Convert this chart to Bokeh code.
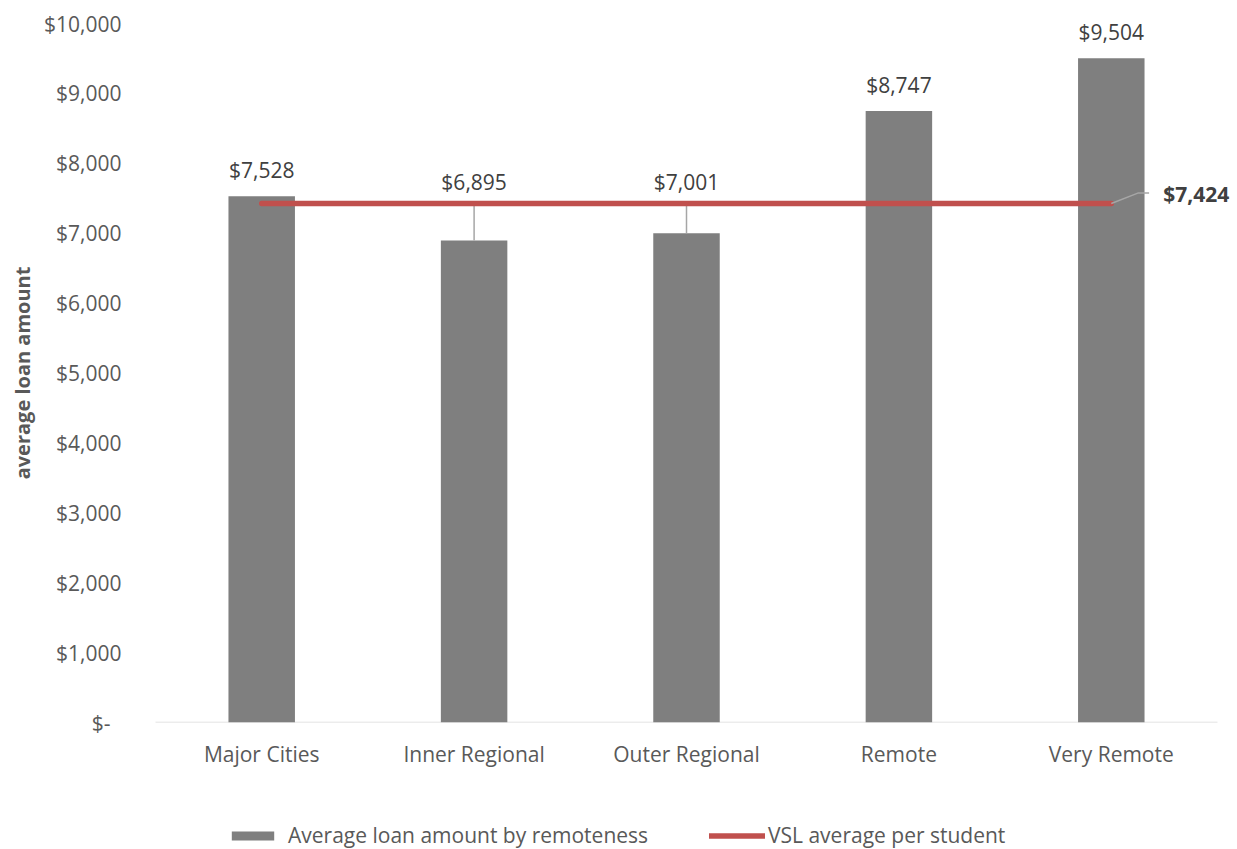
from bokeh.plotting import figure
from bokeh.layouts import column
from bokeh.models import (Range1d, FactorRange, FixedTicker, NumeralTickFormatter,
                          Legend, LegendItem, ColumnDataSource)
from bokeh.core.properties import value
from bokeh.embed import file_html
from bokeh.resources import INLINE

# ---- data ----
categories = ["Major Cities", "Inner Regional", "Outer Regional", "Remote", "Very Remote"]
loan_amounts = [7528, 6895, 7001, 8747, 9504]
vsl_average = 7424
y_ticks = [0, 1000, 2000, 3000, 4000, 5000, 6000, 7000, 8000, 9000, 10000]
series_names = ["Average loan amount by remoteness", "VSL average per student"]

FONT = "Open Sans"
BAR_COLOR = "#7F7F7F"
LINE_COLOR = "#C0504D"
TEXT_COLOR = "#595959"
LABEL_COLOR = "#404040"
LEADER = "#A6A6A6"

xr = FactorRange(*categories, range_padding=0.0942, range_padding_units="absolute")
p = figure(width=1237, height=770, x_range=xr,
           y_range=Range1d(0, 10000), output_backend="svg", toolbar_location=None,
           min_border_left=135, min_border_right=0, min_border_top=23,
           min_border_bottom=47)
p.outline_line_color = None
p.xgrid.grid_line_color = None
p.ygrid.grid_line_color = None
p.background_fill_color = "white"
p.border_fill_color = "white"

src = ColumnDataSource(dict(x=categories, y=loan_amounts,
                            avg=[vsl_average] * len(categories)))

# category-axis baseline across the categories
p.segment(x0=[0], y0=[0], x1=[len(categories)], y1=[0], line_color="#D9D9D9", line_width=1.5)

bars = p.vbar(x="x", top="y", width=0.313, source=src, color=BAR_COLOR, line_color=None)

# leader lines for labels moved above the average line
below = [i for i, v in enumerate(loan_amounts) if v < vsl_average]
p.segment(x0=[categories[i] for i in below], y0=[vsl_average] * len(below),
          x1=[categories[i] for i in below], y1=[loan_amounts[i] for i in below],
          line_color=LEADER, line_width=1.5)

avg_line = p.line(x="x", y="avg", source=src, line_color=LINE_COLOR, line_width=5.5,
                  line_cap="round")

# data labels
above = [i for i, v in enumerate(loan_amounts) if v >= vsl_average]
p.text(x=[categories[i] for i in above], y=[loan_amounts[i] for i in above],
       text=[f"${loan_amounts[i]:,}" for i in above], y_offset=-26,
       text_align="center", text_baseline="middle", text_font=value(FONT),
       text_font_size="21px", text_color=LABEL_COLOR)
p.text(x=[categories[i] for i in below], y=[vsl_average] * len(below),
       text=[f"${loan_amounts[i]:,}" for i in below], y_offset=-22,
       text_align="center", text_baseline="middle", text_font=value(FONT),
       text_font_size="21px", text_color=LABEL_COLOR)

# average label with leader
last = len(categories) - 0.5
p.line(x=[last, last + 0.125, last + 0.178],
       y=[vsl_average, vsl_average + 150, vsl_average + 150],
       line_color=LEADER, line_width=1.5)
p.text(x=[categories[-1]], y=[vsl_average], text=[f"${vsl_average:,}"],
       x_offset=52, y_offset=-10, text_align="left", text_baseline="middle",
       text_font=value(FONT), text_font_size="21px", text_font_style="bold",
       text_color=LABEL_COLOR)

# axes
yax = p.yaxis[0]
yax.ticker = FixedTicker(ticks=y_ticks)
yax.formatter = NumeralTickFormatter(format="$0,0")
yax.major_label_overrides = {0: "$-\u00a0\u00a0"}
yax.axis_line_color = None
yax.major_tick_line_color = None
yax.minor_tick_line_color = None
yax.major_label_standoff = 8
yax.major_label_text_font = FONT
yax.major_label_text_font_size = "21px"
yax.major_label_text_color = TEXT_COLOR
yax.axis_label = "average loan amount"
yax.axis_label_text_font = FONT
yax.axis_label_text_font_size = "20px"
yax.axis_label_text_font_style = "bold"
yax.axis_label_text_color = TEXT_COLOR
yax.axis_label_standoff = 5

xax = p.xaxis[0]
xax.axis_line_color = None
xax.major_tick_line_color = None
xax.minor_tick_line_color = None
xax.major_label_standoff = 11
xax.major_label_text_font = FONT
xax.major_label_text_font_size = "21px"
xax.major_label_text_color = TEXT_COLOR

# legend strip below the chart (its frame is aligned with the chart frame)
lf = figure(width=1237, height=79, x_range=Range1d(0, 1), y_range=Range1d(0, 1),
            output_backend="svg", toolbar_location=None,
            min_border_left=0, min_border_right=0, min_border_top=0, min_border_bottom=0)
lf.axis.visible = False
lf.grid.visible = False
lf.outline_line_color = None
lf.border_fill_color = "white"
stub = ColumnDataSource(dict(x=[0], y=[0]))
leg_bar = lf.vbar(x="x", top="y", bottom="y", width=0.0, source=stub,
                  color=BAR_COLOR, line_color=None)
leg_line = lf.line(x="x", y="y", source=stub, line_color=LINE_COLOR, line_width=5.5,
                   line_cap="round")

def make_legend(item, loc, gw, standoff):
    return Legend(items=[item], location=loc, orientation="horizontal",
                  glyph_width=gw, glyph_height=11, label_standoff=standoff,
                  padding=0, margin=0, border_line_color=None,
                  background_fill_alpha=0, label_text_font=FONT,
                  label_text_font_size="21px", label_text_color=TEXT_COLOR)

lf.add_layout(make_legend(LegendItem(label=series_names[0], renderers=[leg_bar]), (91, 0), 53, 9))
lf.add_layout(make_legend(LegendItem(label=series_names[1], renderers=[leg_line]), (574, 0), 56, 3))

layout = column(p, lf, spacing=0)
open("out.html", "w").write(file_html(layout, INLINE))
